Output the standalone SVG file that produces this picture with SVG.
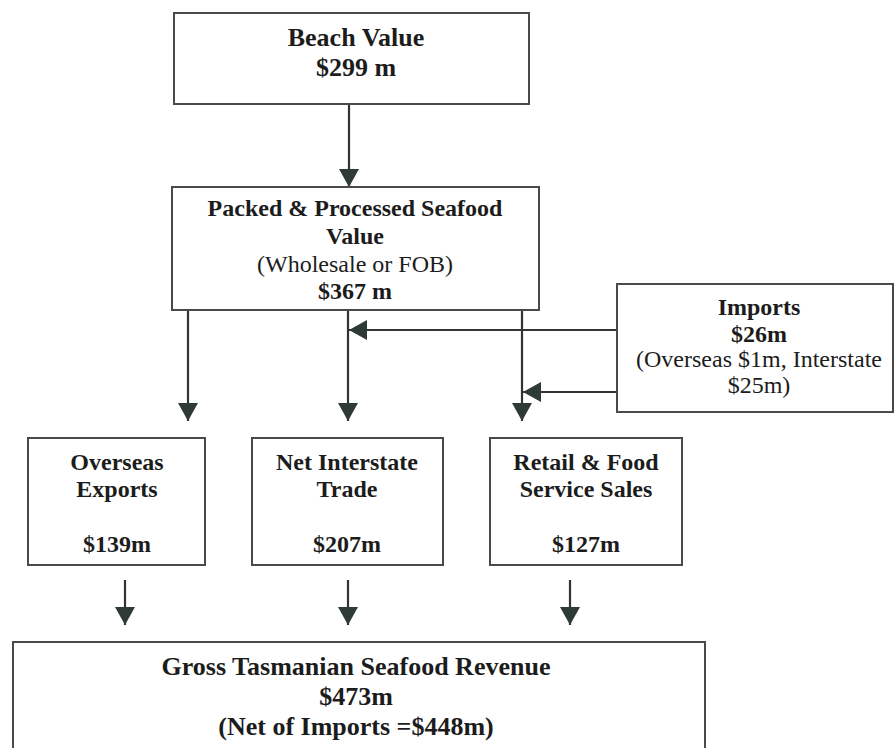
<svg xmlns="http://www.w3.org/2000/svg" width="895" height="748" viewBox="0 0 895 748">
  <style>
    .box { fill: #ffffff; stroke: #4a4a4a; stroke-width: 2; }
    .t { font-family: "Liberation Serif", "Times New Roman", serif; font-size: 24px; fill: #1c1c1c; text-anchor: middle; }
    .b { font-weight: bold; }
    .big { font-size: 26px; }
    .conn { stroke: #333333; stroke-width: 2.2; fill: none; marker-end: url(#arrow); }
  </style>
  <defs>
    <marker id="arrow" markerUnits="userSpaceOnUse" viewBox="0 0 18 20" markerWidth="18" markerHeight="20" refX="18" refY="10" orient="auto">
      <path d="M0,0 L18,10 L0,20 Z" fill="#2e3a35"/>
    </marker>
  </defs>
  <rect width="895" height="748" fill="#ffffff"/>

  <g id="connectors">
    <line class="conn" x1="349" y1="104" x2="349" y2="187"/>
    <line class="conn" x1="188" y1="310" x2="188" y2="421"/>
    <line class="conn" x1="348" y1="310" x2="348" y2="421"/>
    <line class="conn" x1="522" y1="310" x2="522" y2="421"/>
    <line class="conn" x1="617" y1="330" x2="349" y2="330"/>
    <line class="conn" x1="617" y1="392" x2="523" y2="392"/>
    <line class="conn" x1="125" y1="580" x2="125" y2="625"/>
    <line class="conn" x1="348" y1="580" x2="348" y2="625"/>
    <line class="conn" x1="570" y1="580" x2="570" y2="625"/>
  </g>

  <g id="beach">
    <rect class="box" x="174" y="13" width="355" height="91"/>
    <text class="t b big" x="356" y="46">Beach Value</text>
    <text class="t b big" x="356" y="76">$299 m</text>
  </g>

  <g id="packed">
    <rect class="box" x="172" y="187" width="367" height="123"/>
    <text class="t b" x="355" y="216">Packed &amp; Processed Seafood</text>
    <text class="t b" x="355" y="244">Value</text>
    <text class="t" x="355" y="272">(Wholesale or FOB)</text>
    <text class="t b" x="355" y="299">$367 m</text>
  </g>

  <g id="imports">
    <rect class="box" x="617" y="284" width="276" height="128"/>
    <text class="t b" x="759" y="315">Imports</text>
    <text class="t b" x="759" y="342">$26m</text>
    <text class="t" x="759" y="367">(Overseas $1m, Interstate</text>
    <text class="t" x="759" y="393">$25m)</text>
  </g>

  <g id="overseas">
    <rect class="box" x="28" y="438" width="177" height="127"/>
    <text class="t b" x="117" y="470">Overseas</text>
    <text class="t b" x="117" y="497">Exports</text>
    <text class="t b" x="117" y="552">$139m</text>
  </g>

  <g id="interstate">
    <rect class="box" x="252" y="438" width="191" height="127"/>
    <text class="t b" x="347" y="470">Net Interstate</text>
    <text class="t b" x="347" y="497">Trade</text>
    <text class="t b" x="347" y="552">$207m</text>
  </g>

  <g id="retail">
    <rect class="box" x="490" y="438" width="192" height="127"/>
    <text class="t b" x="586" y="470">Retail &amp; Food</text>
    <text class="t b" x="586" y="497">Service Sales</text>
    <text class="t b" x="586" y="552">$127m</text>
  </g>

  <g id="gross">
    <rect class="box" x="13" y="642" width="692" height="130"/>
    <text class="t b big" x="356" y="675">Gross Tasmanian Seafood Revenue</text>
    <text class="t b big" x="356" y="705">$473m</text>
    <text class="t b big" x="356" y="735">(Net of Imports =$448m)</text>
  </g>
</svg>
